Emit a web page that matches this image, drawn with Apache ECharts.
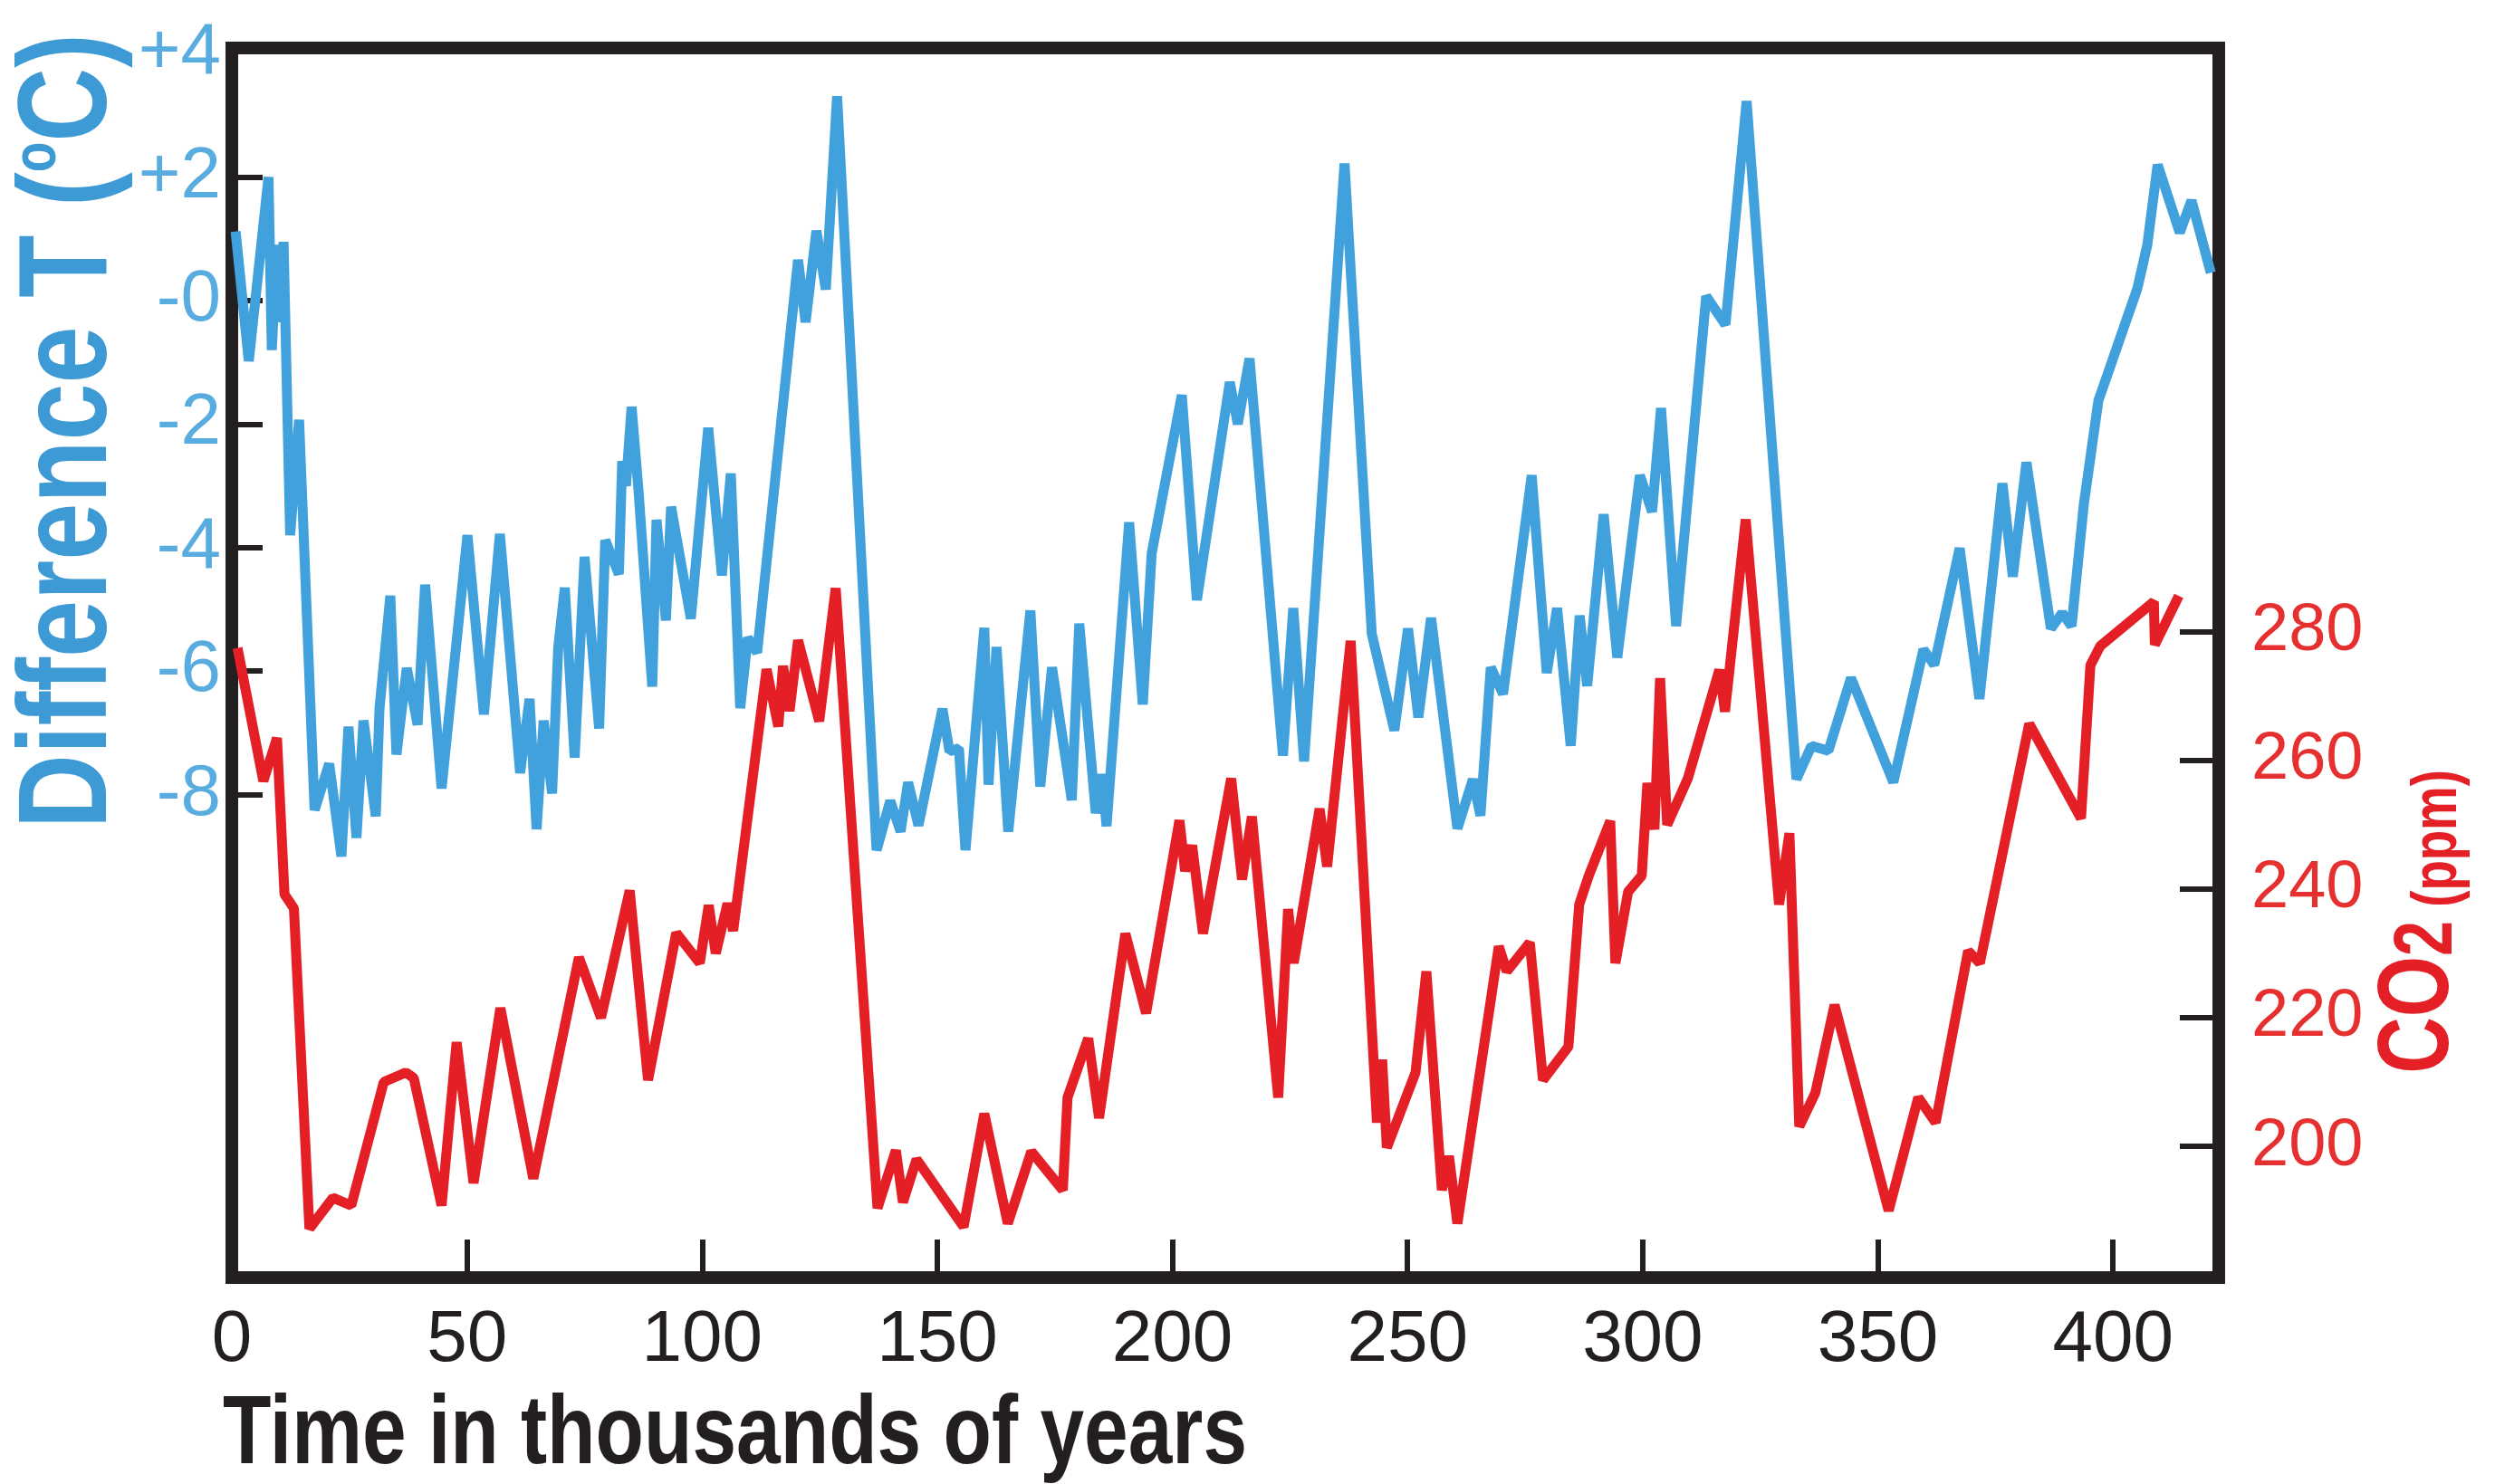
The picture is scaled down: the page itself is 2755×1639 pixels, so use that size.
<!DOCTYPE html>
<html>
<head>
<meta charset="utf-8">
<style>
  html, body { margin: 0; padding: 0; background: #ffffff; }
  #chart { width: 2755px; height: 1639px; }
</style>
<script src="https://cdn.jsdelivr.net/npm/echarts@6/dist/echarts.min.js"></script>
</head>
<body>
<div id="chart"></div>
<script>
// temperature difference (deg C)
const tempKyr = [
  0.8, 3.6, 7.8, 8.5, 9.6, 10.3, 11.0, 12.4, 14.3, 17.6,
  20.7, 23.3, 24.8, 26.5, 28.0, 30.6, 31.4, 33.7, 35.0, 37.2,
  39.5, 41.1, 44.6, 50.1, 53.6, 57.0, 61.3, 63.3, 64.8, 66.3,
  68.1, 69.4, 70.8, 72.9, 75.0, 78.1, 79.4, 82.3, 83.0, 83.8,
  85.0, 86.5, 89.4, 90.3, 92.3, 93.4, 97.6, 101.3, 104.2, 106.1,
  108.1, 109.7, 111.7, 120.4, 122.0, 124.3, 126.3, 128.7, 137.1, 140.0,
  142.2, 143.8, 146.0, 151.1, 152.6, 154.6, 156.0, 160.0, 160.9, 162.6,
  165.1, 169.8, 171.9, 174.4, 178.6, 180.2, 183.7, 185.0, 186.0, 190.8,
  193.7, 195.6, 202.0, 205.2, 212.2, 213.9, 216.4, 223.5, 225.7, 228.0,
  236.6, 242.4, 247.2, 250.1, 252.3, 255.0, 260.6, 263.9, 265.5, 267.7,
  270.3, 276.4, 279.6, 281.8, 284.7, 286.6, 288.2, 291.7, 294.6, 299.4,
  302.0, 303.9, 307.1, 313.5, 317.6, 322.1, 332.7, 335.9, 339.5, 344.3,
  353.3, 359.7, 362.0, 367.4, 371.6, 376.5, 378.7, 381.6, 386.8, 389.2,
  391.2, 393.8, 396.9, 405.2, 407.3, 409.5, 414.2, 416.7, 420.8
];
const tempDiff = [
  1.12, -0.98, 2.0, -0.8, 0.9, -0.35, 0.95, -3.8, -1.93, -8.25,
  -7.5, -9.0, -6.9, -8.7, -6.8, -8.35, -6.6, -4.78, -7.35, -5.95,
  -6.87, -4.6, -7.9, -3.8, -6.7, -3.78, -7.65, -6.45, -8.56, -6.8,
  -7.98, -5.62, -4.65, -7.4, -4.15, -6.93, -3.88, -4.43, -2.6, -3.0,
  -1.72, -3.1, -6.25, -3.55, -5.18, -3.34, -5.15, -2.06, -4.45, -2.8,
  -6.6, -5.46, -5.7, 0.66, -0.35, 1.13, 0.18, 3.31, -8.9, -8.1,
  -8.6, -7.8, -8.5, -6.61, -7.3, -7.25, -8.9, -5.3, -7.84, -5.61,
  -8.6, -5.02, -7.87, -5.94, -8.09, -5.23, -8.3, -7.67, -8.51, -3.59,
  -6.54, -4.09, -1.53, -4.85, -1.32, -2.0, -0.94, -7.37, -4.98, -7.46,
  2.22, -5.4, -6.96, -5.31, -6.75, -5.14, -8.55, -7.75, -8.34, -5.94,
  -6.37, -2.83, -6.03, -4.98, -7.21, -5.1, -6.24, -3.46, -5.78, -2.83,
  -3.42, -1.74, -5.27, 0.07, -0.39, 3.23, -7.75, -7.21, -7.29, -6.11,
  -7.8, -5.65, -5.9, -4.01, -6.45, -2.96, -4.47, -2.62, -5.31, -5.06,
  -5.27, -3.3, -1.62, 0.2, 0.9, 2.2, 1.1, 1.62, 0.45
];

// CO2 (ppm)
const co2Kyr = [
  1.2, 6.7, 9.6, 11.2, 13.2, 16.5, 21.5, 25.4, 32.3, 37.0,
  38.7, 44.6, 47.8, 51.4, 57.1, 64.1, 73.8, 78.5, 84.6, 88.5,
  94.5, 99.5, 101.4, 102.9, 105.4, 106.6, 113.7, 116.2, 117.2, 118.6,
  120.4, 124.9, 128.4, 137.3, 141.2, 142.7, 145.6, 155.6, 160.0, 165.0,
  170.0, 176.7, 177.7, 182.1, 184.4, 190.0, 194.4, 201.5, 202.7, 204.2,
  206.5, 212.5, 214.8, 216.9, 222.5, 224.6, 225.8, 231.3, 232.9, 237.9,
  243.5, 244.6, 245.6, 251.7, 254.0, 257.3, 258.8, 260.6, 269.4, 271.1,
  276.0, 278.8, 284.2, 286.5, 288.5, 293.1, 294.2, 296.9, 299.8, 301.0,
  302.5, 303.7, 305.2, 309.6, 316.3, 317.5, 321.9, 329.0, 331.2, 333.3,
  336.7, 340.8, 352.3, 358.6, 362.3, 369.2, 371.7, 382.2, 393.2, 395.2,
  397.3, 408.7, 408.9, 414.0
];
const co2Ppm = [
  277.5, 256.8, 263.5, 239.2, 237.0, 187.2, 192.0, 190.8, 210.0, 211.5,
  210.6, 190.8, 216.2, 194.3, 221.5, 195.0, 229.4, 220.0, 239.8, 210.3,
  233.2, 228.5, 237.5, 230.0, 237.8, 233.5, 274.2, 265.3, 274.7, 267.7,
  278.7, 266.1, 286.8, 190.4, 199.4, 191.3, 198.0, 187.5, 205.1, 188.0,
  199.2, 193.2, 207.6, 216.8, 204.4, 233.1, 220.7, 250.7, 242.8, 246.8,
  233.1, 257.2, 241.5, 251.3, 207.6, 236.9, 228.5, 252.5, 243.5, 278.6,
  203.7, 213.5, 199.8, 211.5, 227.2, 193.2, 198.5, 188.0, 231.1, 227.2,
  231.7, 210.3, 215.5, 237.6, 242.0, 250.6, 228.5, 239.6, 242.1, 256.5,
  249.3, 272.8, 250.0, 257.2, 274.1, 267.6, 297.5, 237.6, 248.7, 203.1,
  208.3, 222.0, 190.0, 207.6, 203.7, 230.4, 228.5, 265.7, 251.0, 274.8,
  277.8, 284.7, 278.0, 285.6
];

const timeTicks = [0, 50, 100, 150, 200, 250, 300, 350, 400];
const tempTicks = [-8, -6, -4, -2, 0, 2, 4];
const co2Ticks = [200, 220, 240, 260, 280];

const SANS = "'Liberation Sans', Arial, sans-serif";
const INK = "#231f20";
const BLUE = "#41a1dc";
const RED = "#e41f26";

const chart = echarts.init(document.getElementById("chart"), null, { renderer: "canvas" });

chart.setOption({
  animation: false,
  backgroundColor: "#ffffff",
  grid: {
    left: 256, right: 305, top: 53, bottom: 228,
    show: true, borderColor: INK, borderWidth: 14, backgroundColor: "transparent"
  },
  xAxis: {
    type: "value",
    min: 0,
    max: 422.5,
    axisLine: { show: false, onZero: false },
    splitLine: { show: false },
    axisTick: {
      inside: true, length: 42,
      customValues: timeTicks.filter((v) => v > 0),
      lineStyle: { color: INK, width: 6 }
    },
    axisLabel: {
      customValues: timeTicks,
      margin: 30,
      color: INK,
      fontFamily: SANS,
      fontSize: 80
    }
  },
  yAxis: [
    {
      type: "value",
      position: "left",
      min: -15.82,
      max: 4.09,
      axisLine: { show: false, onZero: false },
      splitLine: { show: false },
      axisTick: {
        inside: true, length: 34,
        customValues: tempTicks.filter((v) => v < 4),
        lineStyle: { color: INK, width: 6 }
      },
      axisLabel: {
        customValues: tempTicks,
        margin: 12,
        color: "#58acdf",
        fontFamily: SANS,
        fontSize: 80,
        formatter: (v) => (v > 0 ? "+" + v : v === 0 ? "-0" : String(v))
      }
    },
    {
      type: "value",
      position: "right",
      min: 179.6,
      max: 370.8,
      axisLine: { show: false, onZero: false },
      splitLine: { show: false },
      axisTick: {
        inside: true, length: 43,
        customValues: co2Ticks,
        lineStyle: { color: INK, width: 6 }
      },
      axisLabel: {
        customValues: co2Ticks,
        margin: 36,
        color: "#e5302f",
        fontFamily: SANS,
        fontSize: 74
      }
    }
  ],
  // axis titles: bold grotesque squeezed to a condensed width
  graphic: [
    {
      type: "text",
      x: 78, y: 476,
      rotation: Math.PI / 2,
      scaleX: 0.81,
      style: {
        text: "{a|Difference T (}{b|o}{a|C)}",
        align: "center",
        verticalAlign: "middle",
        rich: {
          a: { fontFamily: SANS, fontWeight: "bold", fontSize: 140, fill: "#3d9ad5" },
          b: { fontFamily: SANS, fontWeight: "bold", fontSize: 68, fill: "#3d9ad5", verticalAlign: "top" }
        }
      }
    },
    {
      type: "text",
      x: 2672, y: 1018,
      rotation: Math.PI / 2,
      scaleX: 0.78,
      style: {
        text: "{a|CO}{b|2}{c| (ppm)}",
        align: "center",
        verticalAlign: "middle",
        rich: {
          a: { fontFamily: SANS, fontWeight: "bold", fontSize: 111, fill: RED, verticalAlign: "bottom" },
          b: { fontFamily: SANS, fontWeight: "bold", fontSize: 90, fill: RED, verticalAlign: "bottom" },
          c: { fontFamily: SANS, fontWeight: "bold", fontSize: 70, fill: RED, verticalAlign: "bottom" }
        }
      }
    },
    {
      type: "text",
      x: 246, y: 1586,
      scaleX: 0.81,
      style: {
        text: "Time in thousands of years",
        align: "left",
        verticalAlign: "middle",
        fontFamily: SANS,
        fontWeight: "bold",
        fontSize: 108,
        fill: INK
      }
    }
  ],
  series: [
    {
      name: "Difference T",
      type: "line",
      xAxisIndex: 0,
      yAxisIndex: 0,
      showSymbol: false,
      data: tempKyr.map((t, i) => [t, tempDiff[i]]),
      lineStyle: { color: BLUE, width: 11 },
      z: 3
    },
    {
      name: "CO2",
      type: "line",
      xAxisIndex: 0,
      yAxisIndex: 1,
      showSymbol: false,
      data: co2Kyr.map((t, i) => [t, co2Ppm[i]]),
      lineStyle: { color: RED, width: 11 },
      z: 4
    }
  ]
});
</script>
</body>
</html>
